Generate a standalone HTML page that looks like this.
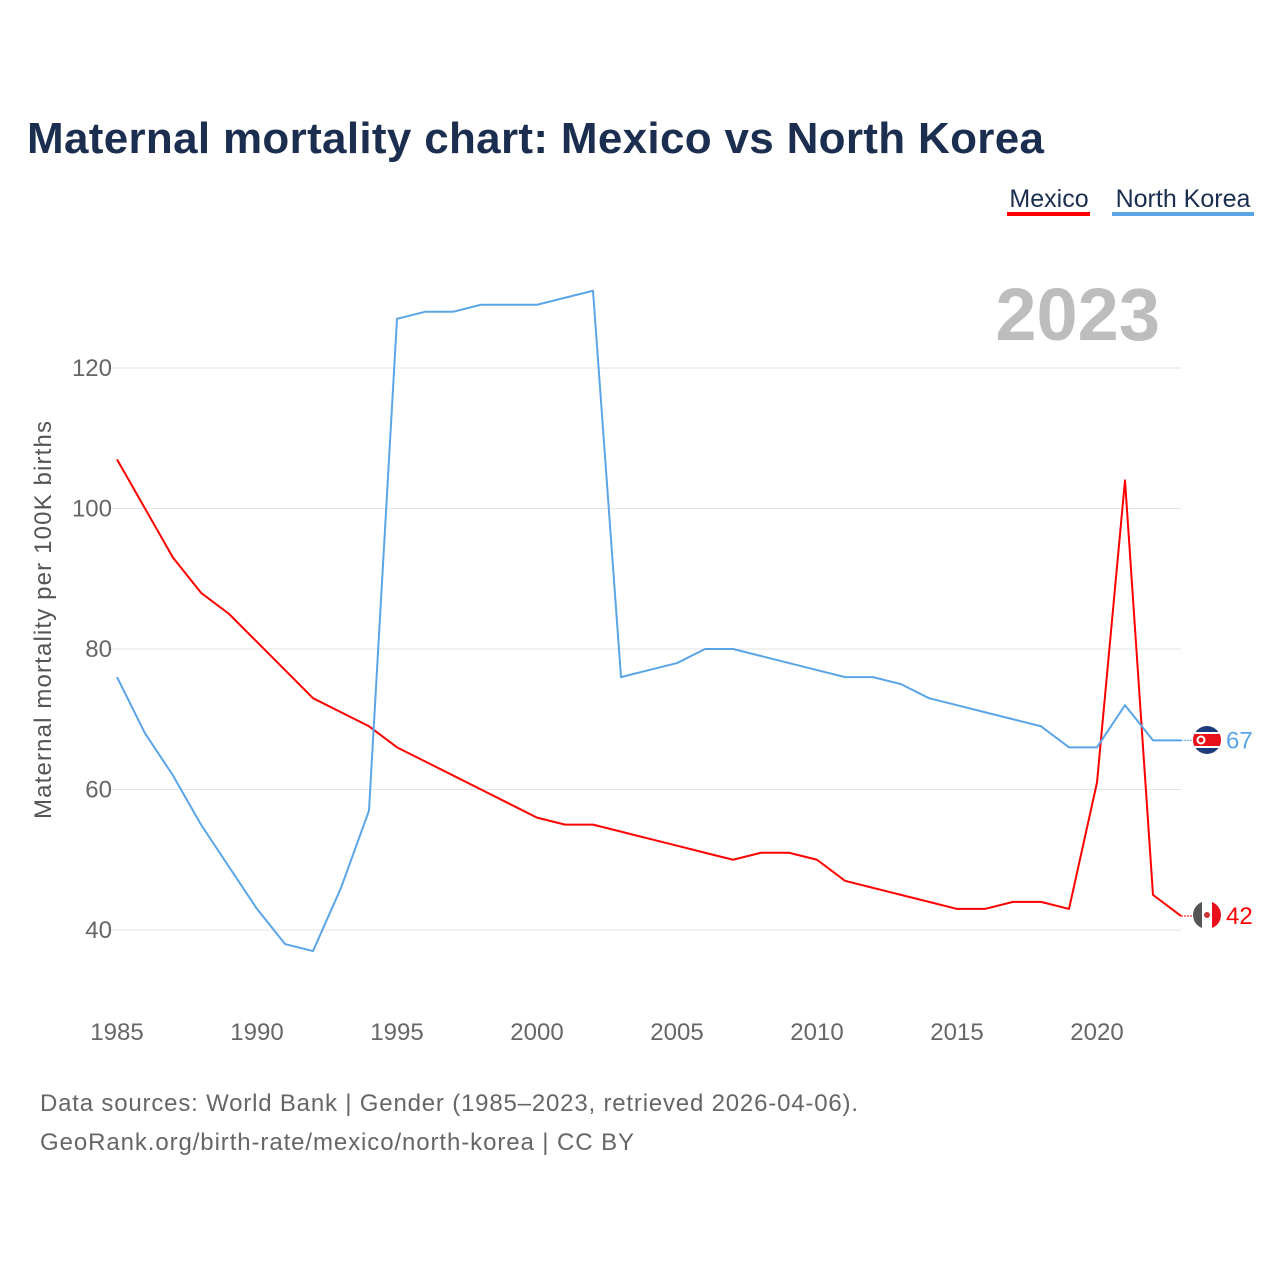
<!DOCTYPE html>
<html><head><meta charset="utf-8">
<style>
body{margin:0;background:#fff;font-family:"Liberation Sans",sans-serif;}
#wrap{position:relative;width:1280px;height:1280px;overflow:hidden;}
</style></head>
<body>
<div id="wrap">
<svg id="chart" width="1280" height="1280" xmlns="http://www.w3.org/2000/svg">
<defs>
<clipPath id="c1"><circle cx="1207" cy="740" r="14"/></clipPath>
<clipPath id="c2"><circle cx="1207" cy="915" r="14"/></clipPath>
</defs>
<text x="27" y="153" font-size="44" font-weight="bold" fill="#1b2e4f" textLength="1017">Maternal mortality chart: Mexico vs North Korea</text>
<g>
<text x="1049" y="207" font-size="25" fill="#1b2e4f" text-anchor="middle">Mexico</text>
<rect x="1007" y="212" width="83" height="4" fill="#ff0000"/></g>
<g>
<text x="1183" y="207" font-size="25" fill="#1b2e4f" text-anchor="middle">North Korea</text>
<rect x="1112" y="212" width="142" height="4" fill="#5aa5e8"/></g>
<text x="1160" y="340" font-size="74" font-weight="bold" fill="#bdbdbd" text-anchor="end">2023</text>
<g id="grid"></g><g id="xt"></g><g id="yt"></g><g id="lines"></g><g id="ends"></g>
<g clip-path="url(#c1)">
<rect x="1190" y="723" width="34" height="34" fill="#1e3a7a"/>
<rect x="1190" y="732" width="34" height="16" fill="#fff"/>
<rect x="1190" y="734" width="34" height="12" fill="#e8101a"/>
<circle cx="1201" cy="740" r="4.5" fill="#fff"/><circle cx="1201" cy="740" r="2.5" fill="#e8101a"/>
</g>
<g clip-path="url(#c2)">
<rect x="1190" y="898" width="12" height="34" fill="#555"/>
<rect x="1202" y="898" width="10" height="34" fill="#fff"/>
<rect x="1212" y="898" width="12" height="34" fill="#e8101a"/>
<circle cx="1207" cy="915" r="3" fill="#c33"/>
</g>
<text transform="translate(51,620) rotate(-90)" font-size="24" fill="#555" text-anchor="middle" textLength="398">Maternal mortality per 100K births</text>
<text x="40" y="1111" font-size="24" fill="#666" textLength="818">Data sources: World Bank | Gender (1985–2023, retrieved 2026-04-06).</text>
<text x="40" y="1150" font-size="24" fill="#666" textLength="594">GeoRank.org/birth-rate/mexico/north-korea | CC BY</text>
</svg>
</div>
<script>
const years=[];for(let y=1985;y<=2023;y++)years.push(y);
const mexico=[107,100,93,88,85,81,77,73,71,69,66,64,62,60,58,56,55,55,54,53,52,51,50,51,51,50,47,46,45,44,43,43,44,44,43,61,104,45,42];
const northKorea=[76,68,62,55,49,43,38,37,46,57,127,128,128,129,129,129,130,131,76,77,78,80,80,79,78,77,76,76,75,73,72,71,70,69,66,66,72,67,67];
const xTicks=[1985,1990,1995,2000,2005,2010,2015,2020];
const yTicks=[40,60,80,100,120];
const NS="http://www.w3.org/2000/svg";
const X=y=>117+(y-1985)*28;
const Y=v=>930-(v-40)*7.025;
function el(t,a,p){const e=document.createElementNS(NS,t);for(const k in a)e.setAttribute(k,a[k]);document.getElementById(p).appendChild(e);return e;}
yTicks.forEach(v=>{
 const l=el('line',{x1:110,x2:1181,y1:Y(v),y2:Y(v),stroke:'#e3e3e3','stroke-width':1},'grid');
 
 
 const t=el('text',{x:112,y:Y(v)+8,'font-size':24,fill:'#666','text-anchor':'end'},'yt');t.textContent=v;
 
 
});
xTicks.forEach(v=>{
 const t=el('text',{x:X(v),y:1040,'font-size':24,fill:'#666','text-anchor':'middle'},'xt');t.textContent=v;
 
 
});
function line(data,color,name){
 const p=el('polyline',{points:data.map((v,i)=>X(years[i])+','+Y(v)).join(' '),fill:'none',stroke:color,'stroke-width':2,'stroke-linejoin':'round'},'lines');
 
 
 const last=data[data.length-1],ly=Y(last);
 const d=el('line',{x1:X(2023),x2:1193,y1:ly,y2:ly,stroke:color,'stroke-width':1,'stroke-dasharray':'2,1'},'ends');
 
 
 const t=el('text',{x:1226,y:ly+8,'font-size':24,fill:color},'ends');t.textContent=last;
 
 
}
line(mexico,'#ff0000','mexico-line');
line(northKorea,'#5aa5e8','north-korea-line');
</script>
</body></html>
